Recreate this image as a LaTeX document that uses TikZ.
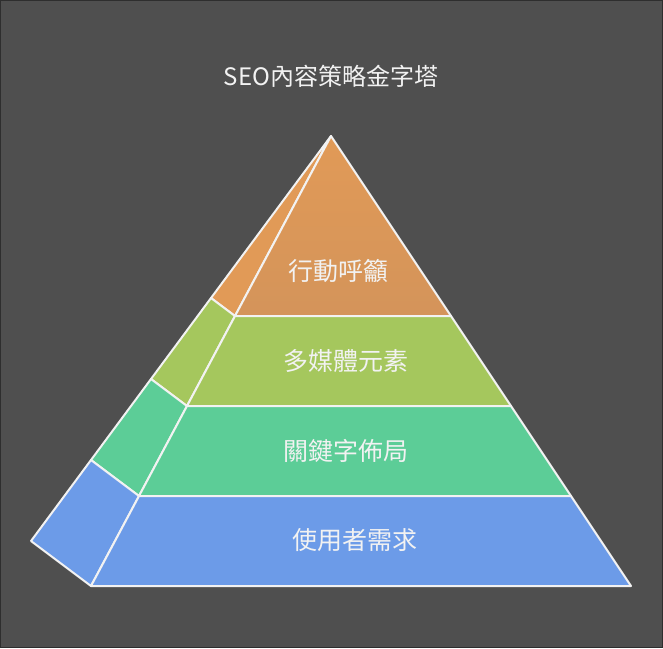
\documentclass[tikz,border=0pt]{standalone}
\usepackage{fontspec}
\setmainfont{Noto Sans CJK TC}
\usepackage{xcolor}

\definecolor{bgray}{HTML}{4F4F4F}
\definecolor{edgegray}{HTML}{2E2E2E}
\definecolor{ctaorange}{HTML}{E19A57}
\definecolor{ctaorangedark}{HTML}{D4945A}
\definecolor{mediagreen}{HTML}{A5C75D}
\definecolor{keygreen}{HTML}{5CCD97}
\definecolor{userblue}{HTML}{6C9BE8}
\definecolor{linewhite}{HTML}{F2F2F2}

\begin{document}
\begin{tikzpicture}[x=1pt,y=-1pt,
  face/.style={draw=linewhite, line width=2pt, line join=round},
  label/.style={text=linewhite, font=\fontsize{25}{29}\selectfont, inner sep=0pt}]
\useasboundingbox (0,0) rectangle (663,648);
\fill[edgegray] (0,0) rectangle (663,648);
\fill[bgray] (1,1) rectangle (662,647);

% corners of the pyramid
\coordinate (apex) at (331,136);
\coordinate (fl1) at (235,316); \coordinate (fr1) at (451,316);
\coordinate (fl2) at (187,406); \coordinate (fr2) at (511,406);
\coordinate (fl3) at (139,496); \coordinate (fr3) at (571,496);
\coordinate (fl4) at (91,586);  \coordinate (fr4) at (631,586);
\coordinate (bk1) at (211,298);
\coordinate (bk2) at (151,379);
\coordinate (bk3) at (91,460);
\coordinate (bk4) at (31,541);

% side faces
\draw[face, fill=ctaorange] (apex) -- (bk1) -- (fl1) -- cycle;
\draw[face, fill=mediagreen] (bk1) -- (bk2) -- (fl2) -- (fl1) -- cycle;
\draw[face, fill=keygreen] (bk2) -- (bk3) -- (fl3) -- (fl2) -- cycle;
\draw[face, fill=userblue] (bk3) -- (bk4) -- (fl4) -- (fl3) -- cycle;

% front faces
\draw[face, top color=ctaorange, bottom color=ctaorangedark] (apex) -- (fr1) -- (fl1) -- cycle;
\draw[face, fill=mediagreen] (fl1) -- (fr1) -- (fr2) -- (fl2) -- cycle;
\draw[face, fill=keygreen] (fl2) -- (fr2) -- (fr3) -- (fl3) -- cycle;
\draw[face, fill=userblue] (fl3) -- (fr3) -- (fr4) -- (fl4) -- cycle;

\node[label, font=\fontsize{24}{28}\selectfont] (title) at (331,76) {SEO內容策略金字塔};
\node[label] (cta) at (338,271) {行動呼籲};
\node[label] (media) at (346,361) {多媒體元素};
\node[label] (keyword) at (346,451) {關鍵字佈局};
\node[label] (user) at (355,540) {使用者需求};
\end{tikzpicture}
\end{document}
